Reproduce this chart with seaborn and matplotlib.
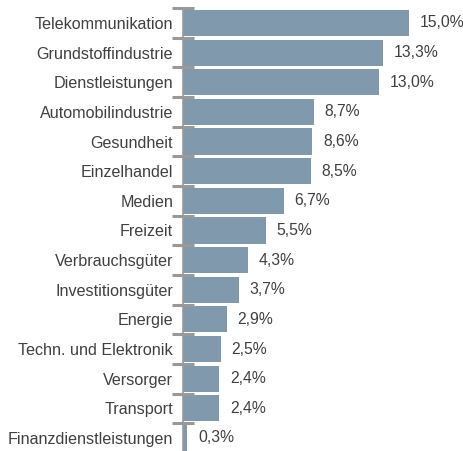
import pandas as pd
import seaborn as sns
import matplotlib.pyplot as plt
import numpy as np

branchen = ["Telekommunikation", "Grundstoffindustrie", "Dienstleistungen", "Automobilindustrie",
            "Gesundheit", "Einzelhandel", "Medien", "Freizeit", "Verbrauchsgüter",
            "Investitionsgüter", "Energie", "Techn. und Elektronik", "Versorger", "Transport",
            "Finanzdienstleistungen"]
anteil = [15.0, 13.3, 13.0, 8.7, 8.6, 8.5, 6.7, 5.5, 4.3, 3.7, 2.9, 2.5, 2.4, 2.4, 0.3]

df = pd.DataFrame({"Branche": branchen, "Anteil": anteil})

plt.rcParams['font.family'] = ['Liberation Sans', 'DejaVu Sans']
fig = plt.figure(figsize=(4.64, 4.51), dpi=100)
ax = fig.add_axes([0.394, -0.004, 0.606, 0.986])

sns.barplot(data=df, x="Anteil", y="Branche", orient="h", color="#8199ad",
            saturation=1, width=0.88, ax=ax)

ax.set_xlim(0, 18.65)
ax.set_ylim(len(branchen) - 0.5, -0.5)
ax.set_xlabel("")
ax.set_ylabel("")
ax.set_xticks([])
for s in ["top", "right", "bottom"]:
    ax.spines[s].set_visible(False)
ax.spines["left"].set_color("#999999")
ax.spines["left"].set_linewidth(1.2)

ax.tick_params(axis="y", which="major", length=0, pad=7, labelsize=11.6, labelcolor="#404040")
ax.set_yticks(np.arange(-0.5, len(branchen), 1), minor=True)
ax.tick_params(axis="y", which="minor", direction="inout", length=16, width=2.2, color="#999999")

for i, v in enumerate(anteil):
    ax.text(v + 0.72, i, f"{v:.1f}%".replace(".", ","), va="center", ha="left",
            fontsize=11.3, color="#404040")

fig.savefig("out.png", dpi=100)
